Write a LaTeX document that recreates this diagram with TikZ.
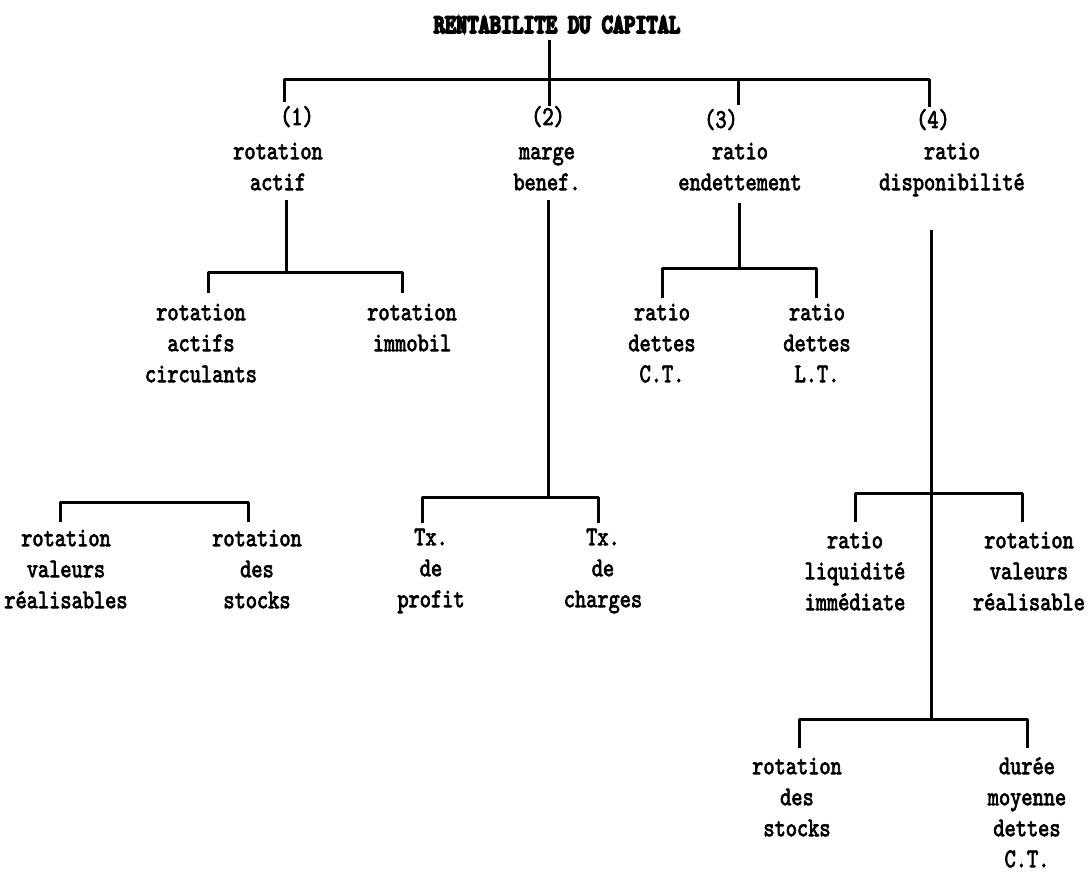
\documentclass[tikz,border=0pt]{standalone}
\usepackage{fontspec}
% typewriter faces, narrowed to a printer pitch
\newfontfamily\labfont{lmmono10-regular}[Extension=.otf, FakeStretch=0.79, FakeBold=2.6]
\newfontfamily\headfont{lmmonolt10-bold}[Extension=.otf, FakeStretch=0.79, FakeBold=7]
\begin{document}
\begin{tikzpicture}[x=1pt,y=-1pt,
  lab/.style={font=\labfont\fontsize{27}{31}\selectfont, align=center, inner sep=0pt, anchor=north},
  head/.style={font=\headfont\fontsize{27}{31}\selectfont, inner sep=0pt, anchor=base},
  link/.style={line width=3pt, line join=round}]
\fill[white] (0,0) rectangle (1088,872);
\useasboundingbox (0,0) rectangle (1088,872);

% title
\node[head] (root) at (557,33) {RENTABILITE DU CAPITAL};

% first level
\node[lab] (k1) at (297,103) {\strut(1)};
\node[lab] (k2) at (548,103) {\strut(2)};
\node[lab] (k3) at (721,106) {\strut(3)};
\node[lab] (k4) at (933,106) {\strut(4)};
\node[lab] (n1) at (278,137.3) {\strut rotation\\actif};
\node[lab] (n2) at (547,137.3) {\strut marge\\benef.};
\node[lab] (n3) at (740,137.3) {\strut ratio\\endettement};
\node[lab] (n4) at (952,137.3) {\strut ratio\\disponibilité};

% second level
\node[lab] (n11) at (201,298.3) {\strut rotation\\actifs\\circulants};
\node[lab] (n12) at (412,298.3) {\strut rotation\\immobil};
\node[lab] (n31) at (662,298.3) {\strut ratio\\dettes\\C.T.};
\node[lab] (n32) at (817,298.3) {\strut ratio\\dettes\\L.T.};

% third level
\node[lab] (n111) at (66,524.3) {\strut rotation\\valeurs\\réalisables};
\node[lab] (n112) at (257,524.3) {\strut rotation\\des\\stocks};
\node[lab] (n21) at (431,523.3) {\strut Tx.\\de\\profit};
\node[lab] (n22) at (603,523.3) {\strut Tx.\\de\\charges};
\node[lab] (n41) at (855,526.3) {\strut ratio\\liquidité\\immédiate};
\node[lab] (n42) at (1029,526.3) {\strut rotation\\valeurs\\réalisable};

% fourth level
\node[lab] (n421) at (797,752.3) {\strut rotation\\des\\stocks};
\node[lab] (n422) at (1027,752.3) {\strut durée\\moyenne\\dettes\\C.T.};

% junction points of the brackets
\coordinate (r0) at (549,40);   \coordinate (r1) at (549,106);
\coordinate (t1) at (284,102);  \coordinate (t1b) at (284,80);
\coordinate (t4b) at (929,80);  \coordinate (t4) at (929,107);
\coordinate (t3b) at (738,80);  \coordinate (t3) at (738,105);

\coordinate (a0) at (286,200);  \coordinate (a1) at (286,272);
\coordinate (aL) at (208,293);  \coordinate (aLb) at (208,272);
\coordinate (aRb) at (402,272); \coordinate (aR) at (402,293);

\coordinate (m0) at (548,200);  \coordinate (m1) at (548,497);
\coordinate (mL) at (422,523);  \coordinate (mLb) at (422,497);
\coordinate (mRb) at (598,497); \coordinate (mR) at (598,523);

\coordinate (e0) at (739,203);  \coordinate (e1) at (739,268);
\coordinate (eL) at (662,298);  \coordinate (eLb) at (662,268);
\coordinate (eRb) at (816,268); \coordinate (eR) at (816,298);

\coordinate (d0) at (931,230);  \coordinate (d1) at (931,719);
\coordinate (dL) at (855,522);  \coordinate (dLb) at (855,493);
\coordinate (dRb) at (1022,493);\coordinate (dR) at (1022,522);
\coordinate (sL) at (799,748);  \coordinate (sLb) at (799,719);
\coordinate (sRb) at (1027,719);\coordinate (sR) at (1027,748);

\coordinate (cL) at (60,522);   \coordinate (cLb) at (60,502);
\coordinate (cRb) at (248,502); \coordinate (cR) at (248,522);

% connectors
\draw[link] (r0) -- (r1);
\draw[link] (t1) -- (t1b) -- (t4b) -- (t4);
\draw[link] (t3b) -- (t3);

\draw[link] (a0) -- (a1);
\draw[link] (aL) -- (aLb) -- (aRb) -- (aR);

\draw[link] (m0) -- (m1);
\draw[link] (mL) -- (mLb) -- (mRb) -- (mR);

\draw[link] (e0) -- (e1);
\draw[link] (eL) -- (eLb) -- (eRb) -- (eR);

\draw[link] (d0) -- (d1);
\draw[link] (dL) -- (dLb) -- (dRb) -- (dR);
\draw[link] (sL) -- (sLb) -- (sRb) -- (sR);

\draw[link] (cL) -- (cLb) -- (cRb) -- (cR);
\end{tikzpicture}
\end{document}
